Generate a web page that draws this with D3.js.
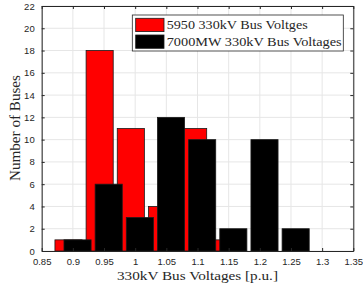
<!DOCTYPE html>
<html>
<head>
<meta charset="utf-8">
<script src="https://cdn.jsdelivr.net/npm/d3@7"></script>
<style>
  body { margin: 0; background: #fff; }
  .tick text { font-family: "Liberation Sans", Arial, sans-serif; font-size: 9.5px; fill: #262626; }
  .lbl { font-family: "Liberation Serif", "DejaVu Serif", serif; fill: #262626; }
</style>
</head>
<body>
<div id="chart"></div>
<script>
var svgWidth = 363;
var svgHeight = 283;

var margin = { top: 6, right: 9.7, bottom: 32, left: 41.7 };
var width = svgWidth - margin.left - margin.right;
var height = svgHeight - margin.top - margin.bottom;

// bin centres and counts
var redCenters = [0.893, 0.943, 0.993, 1.043, 1.093, 1.143];
var redCounts = [1, 18, 11, 4, 11, 1];
var blackCenters = [0.9075, 0.9575, 1.0075, 1.0575, 1.1075, 1.1575, 1.2075, 1.2575];
var blackCounts = [1, 6, 3, 12, 10, 2, 10, 2];
var xTicks = [0.85, 0.9, 0.95, 1, 1.05, 1.1, 1.15, 1.2, 1.25, 1.3, 1.35];
var yTicks = [0, 2, 4, 6, 8, 10, 12, 14, 16, 18, 20, 22];
var seriesNames = ["5950 330kV Bus Voltges", "7000MW 330kV Bus Voltages"];
var barWidth = 0.0435;

var svg = d3.select("#chart")
  .append("svg")
  .attr("width", svgWidth)
  .attr("height", svgHeight);

var chartGroup = svg.append("g")
  .attr("transform", `translate(${margin.left}, ${margin.top})`);

var xScale = d3.scaleLinear().domain([0.85, 1.35]).range([0, width]);
var yScale = d3.scaleLinear().domain([0, 22]).range([height, 0]);

// grid
chartGroup.append("g")
  .selectAll("line.gx")
  .data(xTicks)
  .enter()
  .append("line")
  .attr("x1", d => xScale(d)).attr("x2", d => xScale(d))
  .attr("y1", 0).attr("y2", height)
  .attr("stroke", "#e6e6e6").attr("stroke-width", 1);

chartGroup.append("g")
  .selectAll("line.gy")
  .data(yTicks)
  .enter()
  .append("line")
  .attr("x1", 0).attr("x2", width)
  .attr("y1", d => yScale(d)).attr("y2", d => yScale(d))
  .attr("stroke", "#e6e6e6").attr("stroke-width", 1);

// bars
function drawBars(centers, counts, fill) {
  chartGroup.append("g")
    .selectAll("rect")
    .data(centers.map((c, i) => ({ c: c, n: counts[i] })))
    .enter()
    .append("rect")
    .attr("x", d => xScale(d.c - barWidth / 2))
    .attr("width", d => xScale(d.c + barWidth / 2) - xScale(d.c - barWidth / 2))
    .attr("y", d => yScale(d.n))
    .attr("height", d => yScale(0) - yScale(d.n))
    .attr("fill", fill)
    .attr("stroke", "#1a1a1a")
    .attr("stroke-width", 0.8);
}
drawBars(redCenters, redCounts, "#ff0000");
drawBars(blackCenters, blackCounts, "#000000");

// axes with inward ticks on all four sides
var fmt = d => d3.format("")(+d.toFixed(2));
chartGroup.append("g")
  .attr("transform", `translate(0, ${height})`)
  .call(d3.axisBottom(xScale).tickValues(xTicks).tickFormat(fmt).tickSizeInner(-3).tickSizeOuter(0).tickPadding(7));
chartGroup.append("g")
  .call(d3.axisTop(xScale).tickValues(xTicks).tickFormat("").tickSizeInner(-3).tickSizeOuter(0));
chartGroup.append("g")
  .call(d3.axisLeft(yScale).tickValues(yTicks).tickSizeInner(-3).tickSizeOuter(0).tickPadding(7));
chartGroup.append("g")
  .attr("transform", `translate(${width}, 0)`)
  .call(d3.axisRight(yScale).tickValues(yTicks).tickFormat("").tickSizeInner(-3).tickSizeOuter(0));
chartGroup.selectAll(".domain, .tick line").attr("stroke", "#262626");

// legend
var legend = chartGroup.append("g")
  .attr("transform", `translate(${132.3 - margin.left}, ${15 - margin.top})`);
legend.append("rect")
  .attr("width", 211).attr("height", 36)
  .attr("fill", "#fff").attr("stroke", "#262626").attr("stroke-width", 0.8);
var legendWidths = [141, 175];
[["#ff0000", seriesNames[0]], ["#000000", seriesNames[1]]].forEach(function(item, i) {
  legend.append("rect")
    .attr("x", 3.4).attr("y", 3.3 + i * 16.7)
    .attr("width", 28.3).attr("height", 13.3)
    .attr("fill", item[0]).attr("stroke", "#1a1a1a").attr("stroke-width", 0.8);
  legend.append("text")
    .attr("class", "lbl")
    .attr("x", 34.4).attr("y", 14 + i * 16.7)
    .attr("textLength", legendWidths[i])
    .attr("lengthAdjust", "spacingAndGlyphs")
    .style("font-size", "13.5px")
    .text(item[1]);
});

// axis labels
svg.append("text")
  .attr("class", "lbl")
  .attr("x", margin.left + width / 2)
  .attr("y", 280)
  .attr("text-anchor", "middle")
  .attr("textLength", 161)
  .attr("lengthAdjust", "spacingAndGlyphs")
  .style("font-size", "13.5px")
  .text("330kV Bus Voltages [p.u.]");

svg.append("text")
  .attr("class", "lbl")
  .attr("transform", "translate(20, 128) rotate(-90)")
  .attr("text-anchor", "middle")
  .attr("textLength", 106)
  .attr("lengthAdjust", "spacingAndGlyphs")
  .style("font-size", "14.5px")
  .text("Number of Buses");
</script>
</body>
</html>
